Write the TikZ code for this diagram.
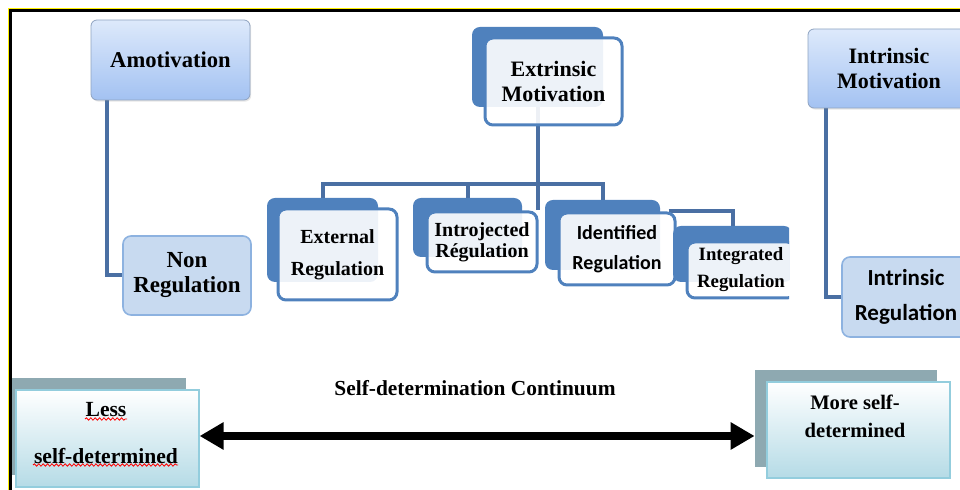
\documentclass[tikz,border=0pt]{standalone}
\usepackage{fontspec}
\setmainfont{Liberation Serif}
\newfontfamily\califont{Carlito}
\usetikzlibrary{arrows.meta,backgrounds,shadows,decorations.pathmorphing}
\definecolor{boxblue}{HTML}{4F81BD}
\definecolor{linkblue}{HTML}{4A6FA3}
\definecolor{gradtop}{HTML}{DDE9FB}
\definecolor{gradbot}{HTML}{A3C2F2}
\definecolor{gradedge}{HTML}{8FA3C0}
\definecolor{paleblue}{HTML}{C8DAF0}
\definecolor{paleedge}{HTML}{8DB2E0}
\definecolor{shadegray}{HTML}{8EA9B1}
\definecolor{aquabot}{HTML}{B5DBE6}
\definecolor{aquaedge}{HTML}{93CDDD}
\newcommand{\boxfont}[2]{\fontsize{#1}{#2}\selectfont\bfseries}
\tikzstyle{gradbox} = [draw=gradedge, rounded corners=3pt, top color=gradtop, bottom color=gradbot, align=center, inner sep=2pt, drop shadow={opacity=0.2, shadow xshift=0.6pt, shadow yshift=-0.8pt}]
\tikzstyle{palebox} = [draw=paleedge, line width=0.8pt, rounded corners=4pt, fill=paleblue, align=center, inner sep=2pt]
\tikzstyle{backbox} = [fill=boxblue, rounded corners=4pt]
\tikzstyle{frontbox} = [draw=boxblue, line width=1.5pt, rounded corners=4pt, fill=white, fill opacity=0.9, text opacity=1, align=center, inner sep=2pt]
\tikzstyle{link} = [draw=linkblue, line width=2pt]
\tikzstyle{flatshade} = [fill=shadegray]
\tikzstyle{aquabox} = [draw=aquaedge, line width=0.6pt, top color=white, bottom color=aquabot]
\tikzstyle{spell} = [red, line width=0.4pt, decorate, decoration={snake, amplitude=0.6pt, segment length=2.2pt}]
\tikzstyle{bigarrow} = [line width=4pt, {Triangle[length=12pt,width=13pt]}-{Triangle[length=12pt,width=13pt]}]

\begin{document}
\begin{tikzpicture}[x=0.5pt, y=-0.5pt]
\useasboundingbox (0,0) rectangle (960,490);
% motivation heads and their regulations
\node[gradbox, minimum width=79.5pt, minimum height=40pt, font=\boxfont{11.3}{13}] (amot) at (170.5,60) {Amotivation};
\node[palebox, minimum width=64pt, minimum height=39.5pt, font=\boxfont{11.5}{12.5}] (nonreg) at (187,275.5) {Non\\Regulation};
\node[backbox, minimum width=65.5pt, minimum height=40pt] (extback) at (537.5,67) {};
\node[frontbox, minimum width=68.5pt, minimum height=43.5pt, font=\boxfont{11}{12.5}] (ext) at (553.5,81.5) {Extrinsic\\Motivation};
\node[gradbox, minimum width=81pt, minimum height=39.5pt, font=\boxfont{11}{12.5}] (intmot) at (889,68.5) {Intrinsic\\Motivation};
\node[palebox, minimum width=64pt, minimum height=40pt, font=\califont\boxfont{11.5}{17.5}] (intreg) at (906,297) {Intrinsic\\Regulation};
% extrinsic regulations
\node[backbox, minimum width=55.5pt, minimum height=42pt] (externalback) at (322.5,240) {};
\node[frontbox, minimum width=59.5pt, minimum height=45.5pt, font=\boxfont{10}{16}] (external) at (337.5,254.5) {External\\Regulation};
\node[backbox, minimum width=54.5pt, minimum height=29.5pt] (introback) at (467.5,227.5) {};
\node[frontbox, minimum width=55pt, minimum height=30pt, font=\boxfont{10}{10.5}] (intro) at (482,242) {Introjected\\Régulation};
\node[backbox, minimum width=57.5pt, minimum height=35pt] (identback) at (602.5,235) {};
\node[frontbox, minimum width=58pt, minimum height=36pt, font=\califont\boxfont{10}{15}] (ident) at (617,249) {Identified\\Regulation};
\begin{scope}
\clip (0,0) rectangle (789,490);
\node[backbox, minimum width=59.5pt, minimum height=28pt] (integback) at (732.5,254) {};
\node[frontbox, minimum width=54pt, minimum height=28pt, font=\boxfont{9.4}{13.5}] (integ) at (741,270) {Integrated\\Regulation};
\end{scope}
% continuum
\node[font=\boxfont{10.7}{13}] (contitle) at (475,388) {Self-determination Continuum};
\node[flatshade, minimum width=87pt, minimum height=48.5pt] (lessback) at (99,426.5) {};
\node[aquabox, minimum width=91.5pt, minimum height=48.5pt] (less) at (107.5,438.5) {};
\node[align=center, font=\boxfont{10.8}{23.5}] (lesstxt) at (106,433.5) {Less\\self-determined};
\node[flatshade, minimum width=91pt, minimum height=48.5pt] (moreback) at (846,418.5) {};
\node[aquabox, minimum width=91.5pt, minimum height=48pt] (more) at (858.5,430) {};
\node[align=center, font=\boxfont{10.3}{14}] (moretxt) at (855,416) {More self-\\determined};
\draw[spell] (85,419) -- (127,419);
\draw[spell] (33,465) -- (178,465);
\coordinate (arrowy) at (0,436);
\draw[bigarrow] (less.east |- arrowy) -- (moreback.west |- arrowy);
% connectors
\begin{scope}[on background layer]
\draw[link] ([xshift=8pt]amot.south west) |- (nonreg.west);
\draw[link] ([xshift=9pt]intmot.south west) |- (intreg.west);
\coordinate (bar) at (0,184);
\draw[link] (extback.south) -- (extback.south |- intro.north);
\draw[link] (externalback.north) -- (externalback.north |- bar) -- (identback.north |- bar) -- (identback.north);
\draw[link] (introback.north) -- (introback.north |- bar);
\draw[link] ([xshift=-4pt]ident.north east) -| (integback.north);
\end{scope}
% frame
\draw[yellow, line width=0.8pt] (8.7,490) -- (8.7,8.7) -- (960,8.7);
\draw[black, line width=1.5pt] (10.8,490) -- (10.8,10.8) -- (960,10.8);
\end{tikzpicture}
\end{document}
